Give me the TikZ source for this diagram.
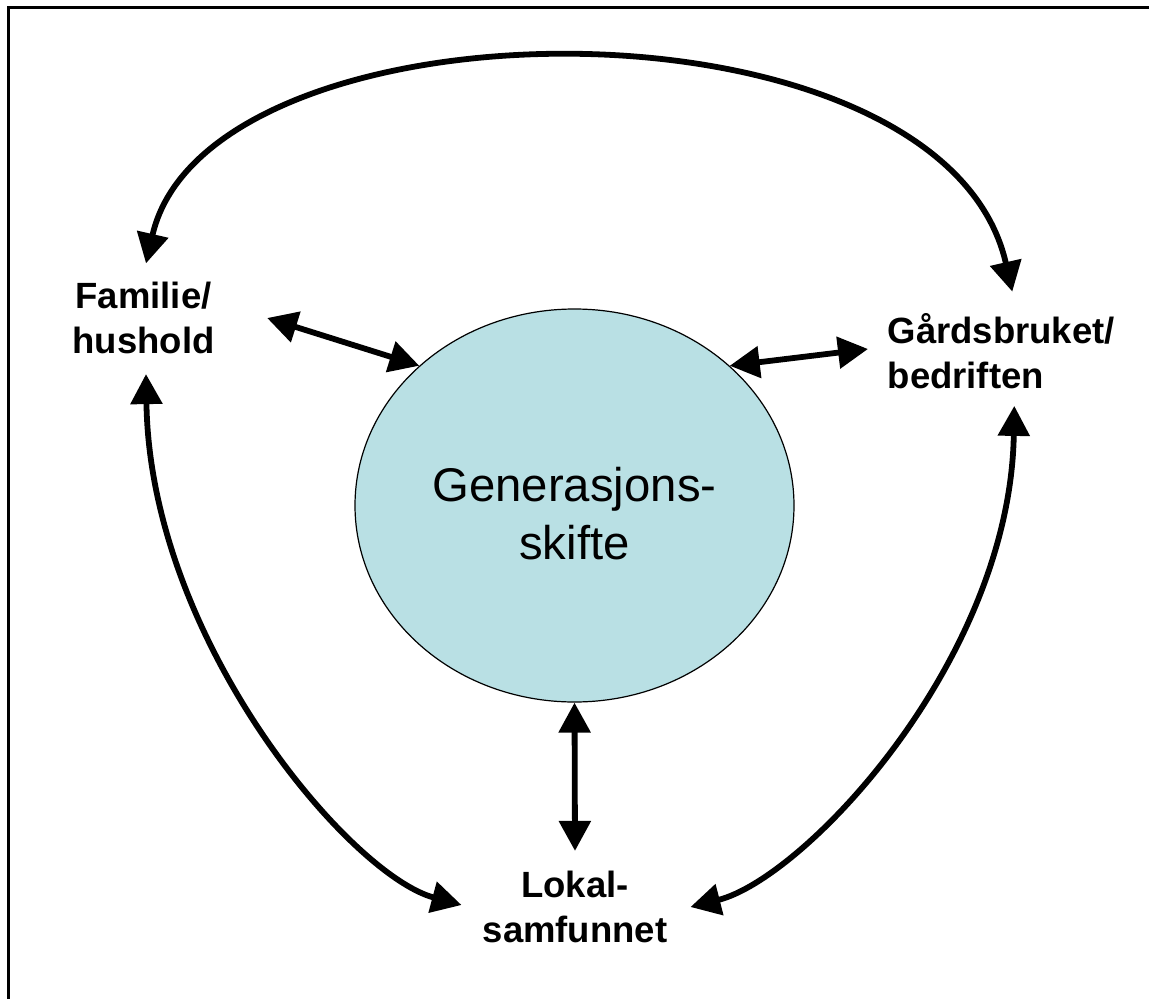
\documentclass[tikz,border=0pt]{standalone}
\usepackage{fontspec}
\setmainfont{Liberation Sans}
\usepackage{tikz}
\usetikzlibrary{arrows.meta,shapes.geometric}
\definecolor{centrefill}{RGB}{185,224,228}
\tikzstyle{node:label}=[inner sep=0pt,font=\fontsize{36.5}{45}\selectfont\bfseries]
\tikzstyle{node:centre}=[ellipse,draw,line width=1.2pt,fill=centrefill,minimum width=439pt,minimum height=393pt,inner sep=0pt,align=center,text height=109pt,font=\fontsize{47.3}{58}\selectfont]
\tikzstyle{draw:link}=[>={Triangle[length=30pt,width=31pt]},<->,line width=5.8pt]
\tikzstyle{draw:frame}=[line width=2.5pt]

\begin{document}
\begin{tikzpicture}[x=1pt,y=-1pt]
        \useasboundingbox (0,0) rectangle (1149,999);

        % Frame (top and left edge)
        \draw[draw:frame] (8.5,999) -- (8.5,7.5) -- (1149,7.5);

        % Centre
        \node[node:centre] (gen) at (574.5,505.5) {Generasjons-\\skifte};

        % Labels
        \node[node:label,align=center] (fam) at (143.5,318) {Familie/\\hushold};
        \node[node:label,align=left,anchor=west] (gard) at (887.5,351) {Gårdsbruket/\\bedriften};
        \node[node:label,align=center] (lokal) at (575,907) {Lokal-\\samfunnet};

        % draw:link between centre and labels
        \draw[draw:link] ([xshift=52.5pt]fam.east) -- (gen.138);
        \draw[draw:link] (gen.42) -- ([xshift=-19.5pt,yshift=2pt]gard.west);
        \draw[draw:link] (gen.south) -- ([yshift=20pt]lokal.north);

        % draw:link round the outside
        \draw[draw:link] ([xshift=2.5pt,yshift=18.5pt]fam.north) .. controls (208,-8) and (943,-15) .. ([xshift=11pt,yshift=21.5pt]gard.north);
        \draw[draw:link] ([xshift=2.5pt,yshift=-20pt]fam.south) .. controls (150,640) and (350,875) .. ([xshift=-21pt,yshift=2pt]lokal.west);
        \draw[draw:link] ([xshift=13pt,yshift=-17pt]gard.south) .. controls (1010,660) and (805,878) .. ([xshift=23pt]lokal.east);

    \end{tikzpicture}
\end{document}
